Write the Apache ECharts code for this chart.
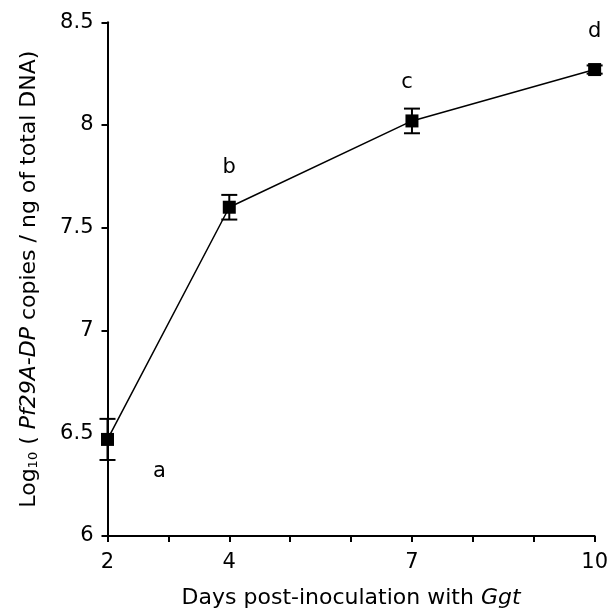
<!DOCTYPE html>
<html>
<head>
<meta charset="utf-8">
<script src="https://cdn.jsdelivr.net/npm/echarts@6/dist/echarts.min.js"></script>
<style>
  html, body { margin: 0; padding: 0; background: #fff; }
  #chart { width: 611px; height: 614px; }
</style>
</head>
<body>
<div id="chart"></div>
<script>
// Sampling days after inoculation
const days = [2, 4, 7, 10];
// Mean log10 copy number per ng of total DNA
const meanLog = [6.47, 7.60, 8.02, 8.27];
// Standard error for each mean
const stdErr = [0.10, 0.06, 0.06, 0.02];
// Significance group letters
const groups = ['a', 'b', 'c', 'd'];
// Days that carry a tick label on the x axis
const labelledDays = [2, 4, 7, 10];

const FONT = 'DejaVu Sans, Liberation Sans, Arial, sans-serif';

const groupOffsets = [[52, 32], [0, -40], [-5, -38], [0, -38]];

const lineData = days.map((d, i) => ({
  value: [d, meanLog[i]],
  label: {
    show: true,
    formatter: groups[i],
    position: 'inside',
    offset: groupOffsets[i],
    color: '#000',
    fontFamily: FONT,
    fontSize: 21
  }
}));

const errData = days.map((d, i) => [d, meanLog[i] - stdErr[i], meanLog[i] + stdErr[i]]);

const chart = echarts.init(document.getElementById('chart'));
chart.setOption({
  animation: false,
  backgroundColor: '#fff',
  grid: { left: 107.5, right: 11, top: 22.3, bottom: 72.6, containLabel: false },
  xAxis: {
    type: 'value',
    min: 2,
    max: 10,
    interval: 1,
    splitLine: { show: false },
    axisLine: { show: true, onZero: false, lineStyle: { color: '#000', width: 2 } },
    axisTick: { show: true, inside: false, length: 6, lineStyle: { color: '#000', width: 2 } },
    axisLabel: {
      margin: 16,
      color: '#000',
      fontFamily: FONT,
      fontSize: 21,
      showMinLabel: true,
      showMaxLabel: true,
      formatter: v => (labelledDays.indexOf(v) >= 0 ? String(v) : '')
    },
    name: 'Days post-inoculation with {it|Ggt}',
    nameLocation: 'middle',
    nameGap: 51,
    nameTextStyle: {
      color: '#000',
      fontFamily: FONT,
      fontSize: 22,
      rich: {
        it: { fontStyle: 'italic', fontFamily: FONT, fontSize: 22, color: '#000' }
      }
    }
  },
  yAxis: {
    type: 'value',
    min: 6,
    max: 8.5,
    interval: 0.5,
    splitLine: { show: false },
    axisLine: { show: true, lineStyle: { color: '#000', width: 2 } },
    axisTick: { show: true, inside: false, length: 6, lineStyle: { color: '#000', width: 2 } },
    axisLabel: {
      margin: 14,
      color: '#000',
      fontFamily: FONT,
      fontSize: 21,
      formatter: v => String(v)
    },
    name: 'Log{sub|10} ( {it|Pf29A-DP} copies / ng of total DNA)',
    nameLocation: 'middle',
    nameGap: 67,
    nameTextStyle: {
      color: '#000',
      fontFamily: FONT,
      fontSize: 22,
      rich: {
        sub: { fontSize: 13, fontFamily: FONT, color: '#000', verticalAlign: 'bottom', padding: [9, 0, 0, 0] },
        it: { fontStyle: 'italic', fontFamily: FONT, fontSize: 22, color: '#000' }
      }
    }
  },
  series: [
    {
      type: 'custom',
      z: 2,
      data: errData,
      renderItem: function (params, api) {
        const x = api.value(0);
        const lo = api.coord([x, api.value(1)]);
        const hi = api.coord([x, api.value(2)]);
        const hw = 8;
        const style = { stroke: '#000', lineWidth: 2 };
        return {
          type: 'group',
          children: [
            { type: 'line', shape: { x1: lo[0], y1: lo[1], x2: hi[0], y2: hi[1] }, style },
            { type: 'line', shape: { x1: lo[0] - hw, y1: lo[1], x2: lo[0] + hw, y2: lo[1] }, style },
            { type: 'line', shape: { x1: hi[0] - hw, y1: hi[1], x2: hi[0] + hw, y2: hi[1] }, style }
          ]
        };
      }
    },
    {
      type: 'line',
      z: 3,
      data: lineData,
      symbol: 'rect',
      symbolSize: 13,
      itemStyle: { color: '#000' },
      lineStyle: { color: '#000', width: 1.5 },
      clip: false
    }
  ]
});
</script>
</body>
</html>
